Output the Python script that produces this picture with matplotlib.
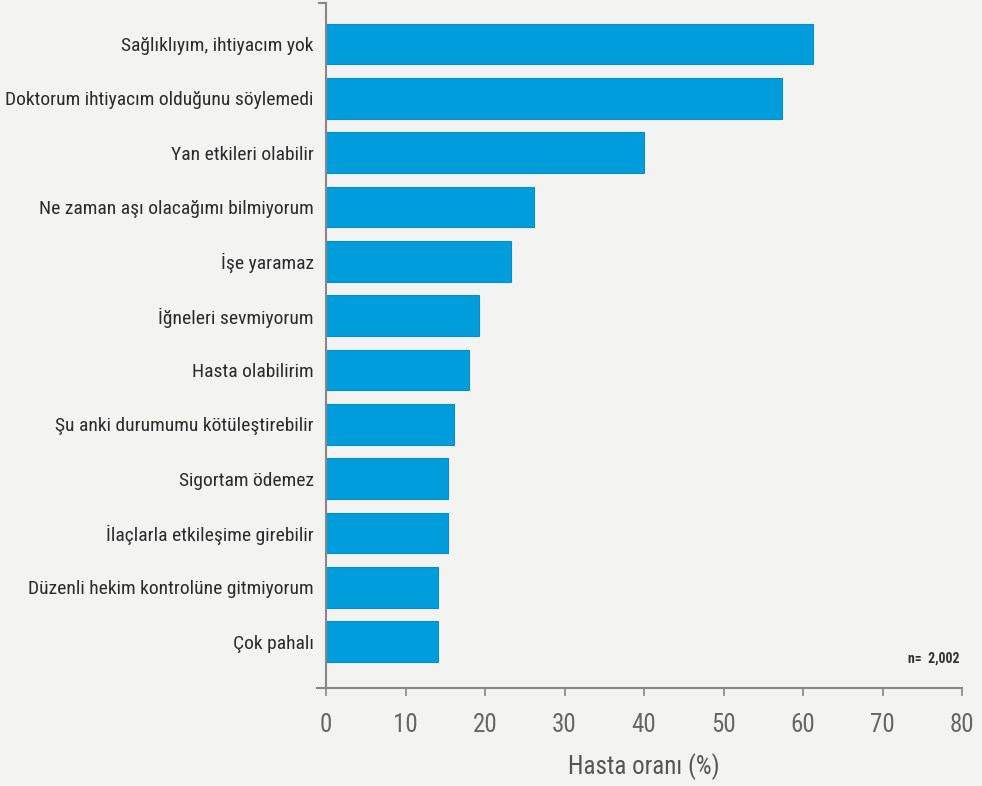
import matplotlib.pyplot as plt
from matplotlib import font_manager

reasons = [
    "Sağlıklıyım, ihtiyacım yok",
    "Doktorum ihtiyacım olduğunu söylemedi",
    "Yan etkileri olabilir",
    "Ne zaman aşı olacağımı bilmiyorum",
    "İşe yaramaz",
    "İğneleri sevmiyorum",
    "Hasta olabilirim",
    "Şu anki durumumu kötüleştirebilir",
    "Sigortam ödemez",
    "İlaçlarla etkileşime girebilir",
    "Düzenli hekim kontrolüne gitmiyorum",
    "Çok pahalı",
]
rates = [61.2, 57.3, 40.0, 26.2, 23.3, 19.3, 18.0, 16.1, 15.4, 15.4, 14.1, 14.1]
xticks = [0, 10, 20, 30, 40, 50, 60, 70, 80]

# condensed face if there is one, else DejaVu a bit smaller
avail = {f.name for f in font_manager.fontManager.ttflist}
narrow = [n for n in ['Roboto Condensed', 'PT Sans Narrow', 'Liberation Sans Narrow',
                      'Open Sans Condensed', 'Archivo Narrow'] if n in avail]
if narrow:
    plt.rcParams['font.family'] = [narrow[0], 'DejaVu Sans']
    k = 1.0
else:
    plt.rcParams['font.family'] = ['DejaVu Sans']
    k = 0.72

bg = '#f3f3f2'
grey = '#888888'
fig = plt.figure(figsize=(9.82, 7.86), dpi=100, facecolor=bg)
ax = fig.add_axes([0.332, 0.1247, 0.6477, 0.8713], facecolor=bg)

pos = list(range(len(reasons)))
ax.barh(pos, rates, height=0.75, color='#009ddc', edgecolor='#0a8fc4', linewidth=0.8)

ax.set_ylim(11.85, -0.75)
ax.set_xlim(0, 80)
ax.set_yticks(pos)
ax.set_yticklabels(reasons, fontsize=14 * k, color='#2b2b2b')
ax.tick_params(axis='y', length=0, pad=9)
ax.set_xticks(xticks)
ax.set_xticklabels([str(t) for t in xticks], fontsize=18 * k, color='#666666')
ax.tick_params(axis='x', length=6, width=1.2, color=grey, pad=12)

for s in ['top', 'right']:
    ax.spines[s].set_visible(False)
for s in ['left', 'bottom']:
    ax.spines[s].set_color(grey)
    ax.spines[s].set_linewidth(1.5)
# axis line runs a little past 0 on the left, and a tick sits on top of the y axis
ax.plot([-1.1, 0], [11.85, 11.85], color=grey, lw=1.5, clip_on=False)
ax.plot([-0.9, 0], [-0.75, -0.75], color=grey, lw=1.5, clip_on=False)

ax.set_xlabel("Hasta oranı (%)", fontsize=18 * k, color='#555555', labelpad=12)
ax.text(73.2, 11.3, "n=  2,002", fontsize=10 * k, fontweight='bold', color='#333333', va='center')

fig.savefig("out.png", dpi=100, facecolor=bg)
